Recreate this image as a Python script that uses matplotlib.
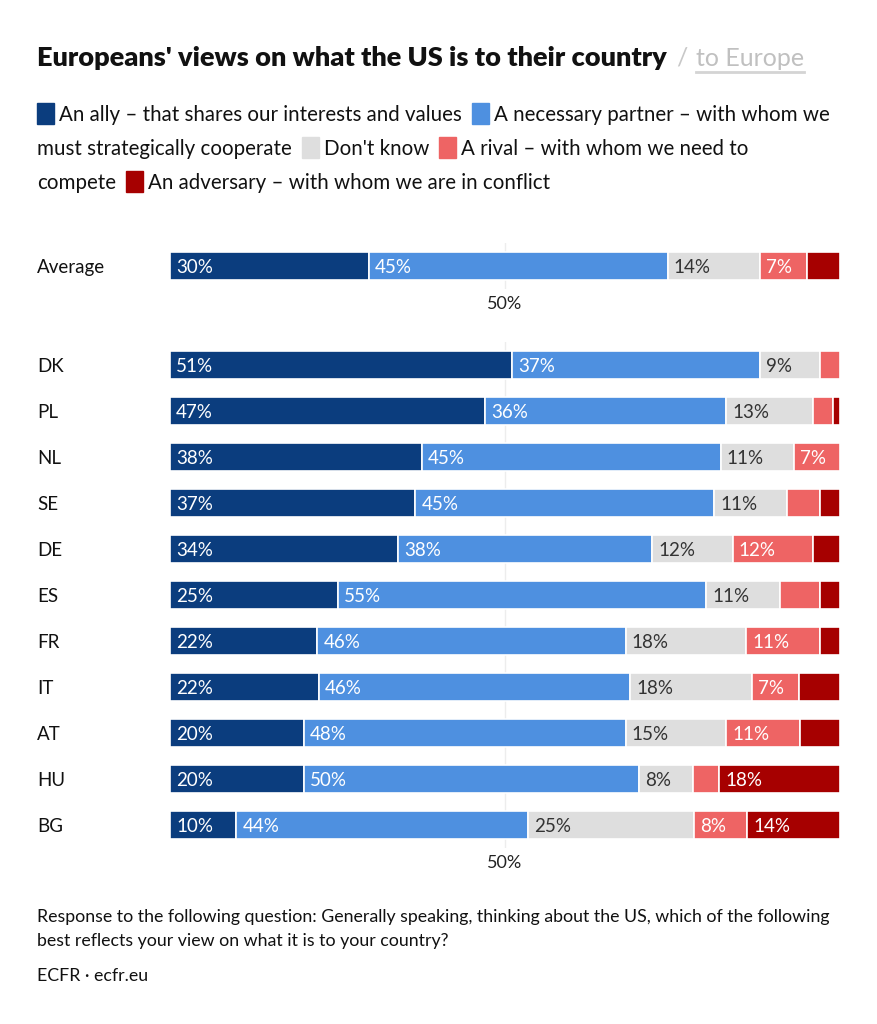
import matplotlib.pyplot as plt
from matplotlib.patches import Rectangle

countries = ['DK', 'PL', 'NL', 'SE', 'DE', 'ES', 'FR', 'IT', 'AT', 'HU', 'BG']
ally = [51, 47, 38, 37, 34, 25, 22, 22, 20, 20, 10]
partner = [37, 36, 45, 45, 38, 55, 46, 46, 48, 50, 44]
dont_know = [9, 13, 11, 11, 12, 11, 18, 18, 15, 8, 25]
rival = [3, 3, 7, 5, 12, 6, 11, 7, 11, 4, 8]
adversary = [0, 1, 0, 3, 4, 3, 3, 6, 6, 18, 14]

average = [30, 45, 14, 7, 5]

legend_labels = ['An ally – that shares our interests and values',
                 'A necessary partner – with whom we must strategically cooperate',
                 "Don't know",
                 'A rival – with whom we need to compete',
                 'An adversary – with whom we are in conflict']

colors = ['#0b3d7e', '#4e90e0', '#dedede', '#ee6464', '#a60000']
text_colors = ['white', 'white', '#333333', 'white', 'white']

FONT = 'Lato'
plt.rcParams['font.family'] = FONT

W, H = 877, 1024
fig = plt.figure(figsize=(W / 100, H / 100), dpi=100)


def fx(px):
    return px / W


def fy(py):
    return 1 - py / H


BAR_L, BAR_R = 170, 840


def draw_rows(ax, rows, names):
    n = len(rows)
    for i, vals in enumerate(rows):
        total = sum(vals)
        left = 0
        for v, c, tc in zip(vals, colors, text_colors):
            w = v / total * 100
            if v > 0:
                ax.barh(i, w, left=left, height=0.63, color=c,
                        edgecolor='white', linewidth=1.2, zorder=2)
            if v >= 7:
                ax.text(left + 0.9, i + 0.04, f'{v}%', color=tc, fontsize=13.5,
                        va='center', ha='left', zorder=3)
            left += w
    ax.set_xlim(0, 100)
    ax.set_ylim(n - 0.5, -0.5)
    ax.axvline(50, color='#ededed', lw=1, zorder=0)
    ax.set_xticks([50])
    ax.set_xticklabels(['50%'], fontsize=13, color='#222222')
    ax.set_yticks(range(n))
    ax.set_yticklabels(names, fontsize=13.5, color='#111111')
    for lab in ax.get_yticklabels():
        lab.set_horizontalalignment('left')
    ax.tick_params(axis='y', length=0, pad=(BAR_L - 37) * 0.72)
    ax.tick_params(axis='x', length=0, pad=5)
    for s in ax.spines.values():
        s.set_visible(False)


# average panel
ax1 = fig.add_axes([fx(BAR_L), fy(289), fx(BAR_R - BAR_L), 46 / H])
draw_rows(ax1, [average], ['Average'])

# country panel
country_rows = [list(r) for r in zip(ally, partner, dont_know, rival, adversary)]
ax2 = fig.add_axes([fx(BAR_L), fy(848), fx(BAR_R - BAR_L), 506 / H])
draw_rows(ax2, country_rows, countries)

renderer = fig.canvas.get_renderer()

# title
t = fig.text(fx(37), fy(66), "Europeans' views on what the US is to their country",
             fontsize=19.5, fontweight='heavy', color='#111111', va='baseline')
bb = t.get_window_extent(renderer)
x = bb.x1 / W + fx(9)
sl = fig.text(x, fy(66), '/', fontsize=18, color='#c8c8c8', va='baseline')
bb = sl.get_window_extent(renderer)
x = bb.x1 / W + fx(9)
te = fig.text(x, fy(66), 'to Europe', fontsize=18, color='#c0c0c0', va='baseline')
bb = te.get_window_extent(renderer)
fig.add_artist(plt.Line2D([bb.x0 / W, bb.x1 / W], [fy(72), fy(72)],
                          color='#d4d4d4', lw=2))

# legend, wrapped as in the original
legend_lines = [
    [(0, legend_labels[0]), (1, 'A necessary partner – with whom we')],
    [(None, 'must strategically cooperate'), (2, legend_labels[2]),
     (3, 'A rival – with whom we need to')],
    [(None, 'compete'), (4, legend_labels[4])],
]
LFS = 14.8
for li, line in enumerate(legend_lines):
    base = 121 + li * 34
    x = 37
    for k, (ci, txt) in enumerate(line):
        if ci is not None:
            if k > 0:
                x += 10
            fig.add_artist(Rectangle((fx(x), fy(base + 3)), fx(17), 21 / H,
                                     color=colors[ci]))
            x += 22
        tt = fig.text(fx(x), fy(base), txt, fontsize=LFS, color='#111111',
                      va='baseline')
        x = tt.get_window_extent(renderer).x1

# footnote
fig.text(fx(37), fy(922), 'Response to the following question: Generally speaking, '
         'thinking about the US, which of the following', fontsize=12.8,
         color='#111111', va='baseline')
fig.text(fx(37), fy(946), 'best reflects your view on what it is to your country?',
         fontsize=12.8, color='#111111', va='baseline')
fig.text(fx(37), fy(981), 'ECFR · ecfr.eu', fontsize=12.8, color='#111111',
         va='baseline')

fig.savefig('out.png', dpi=100, facecolor='white')
